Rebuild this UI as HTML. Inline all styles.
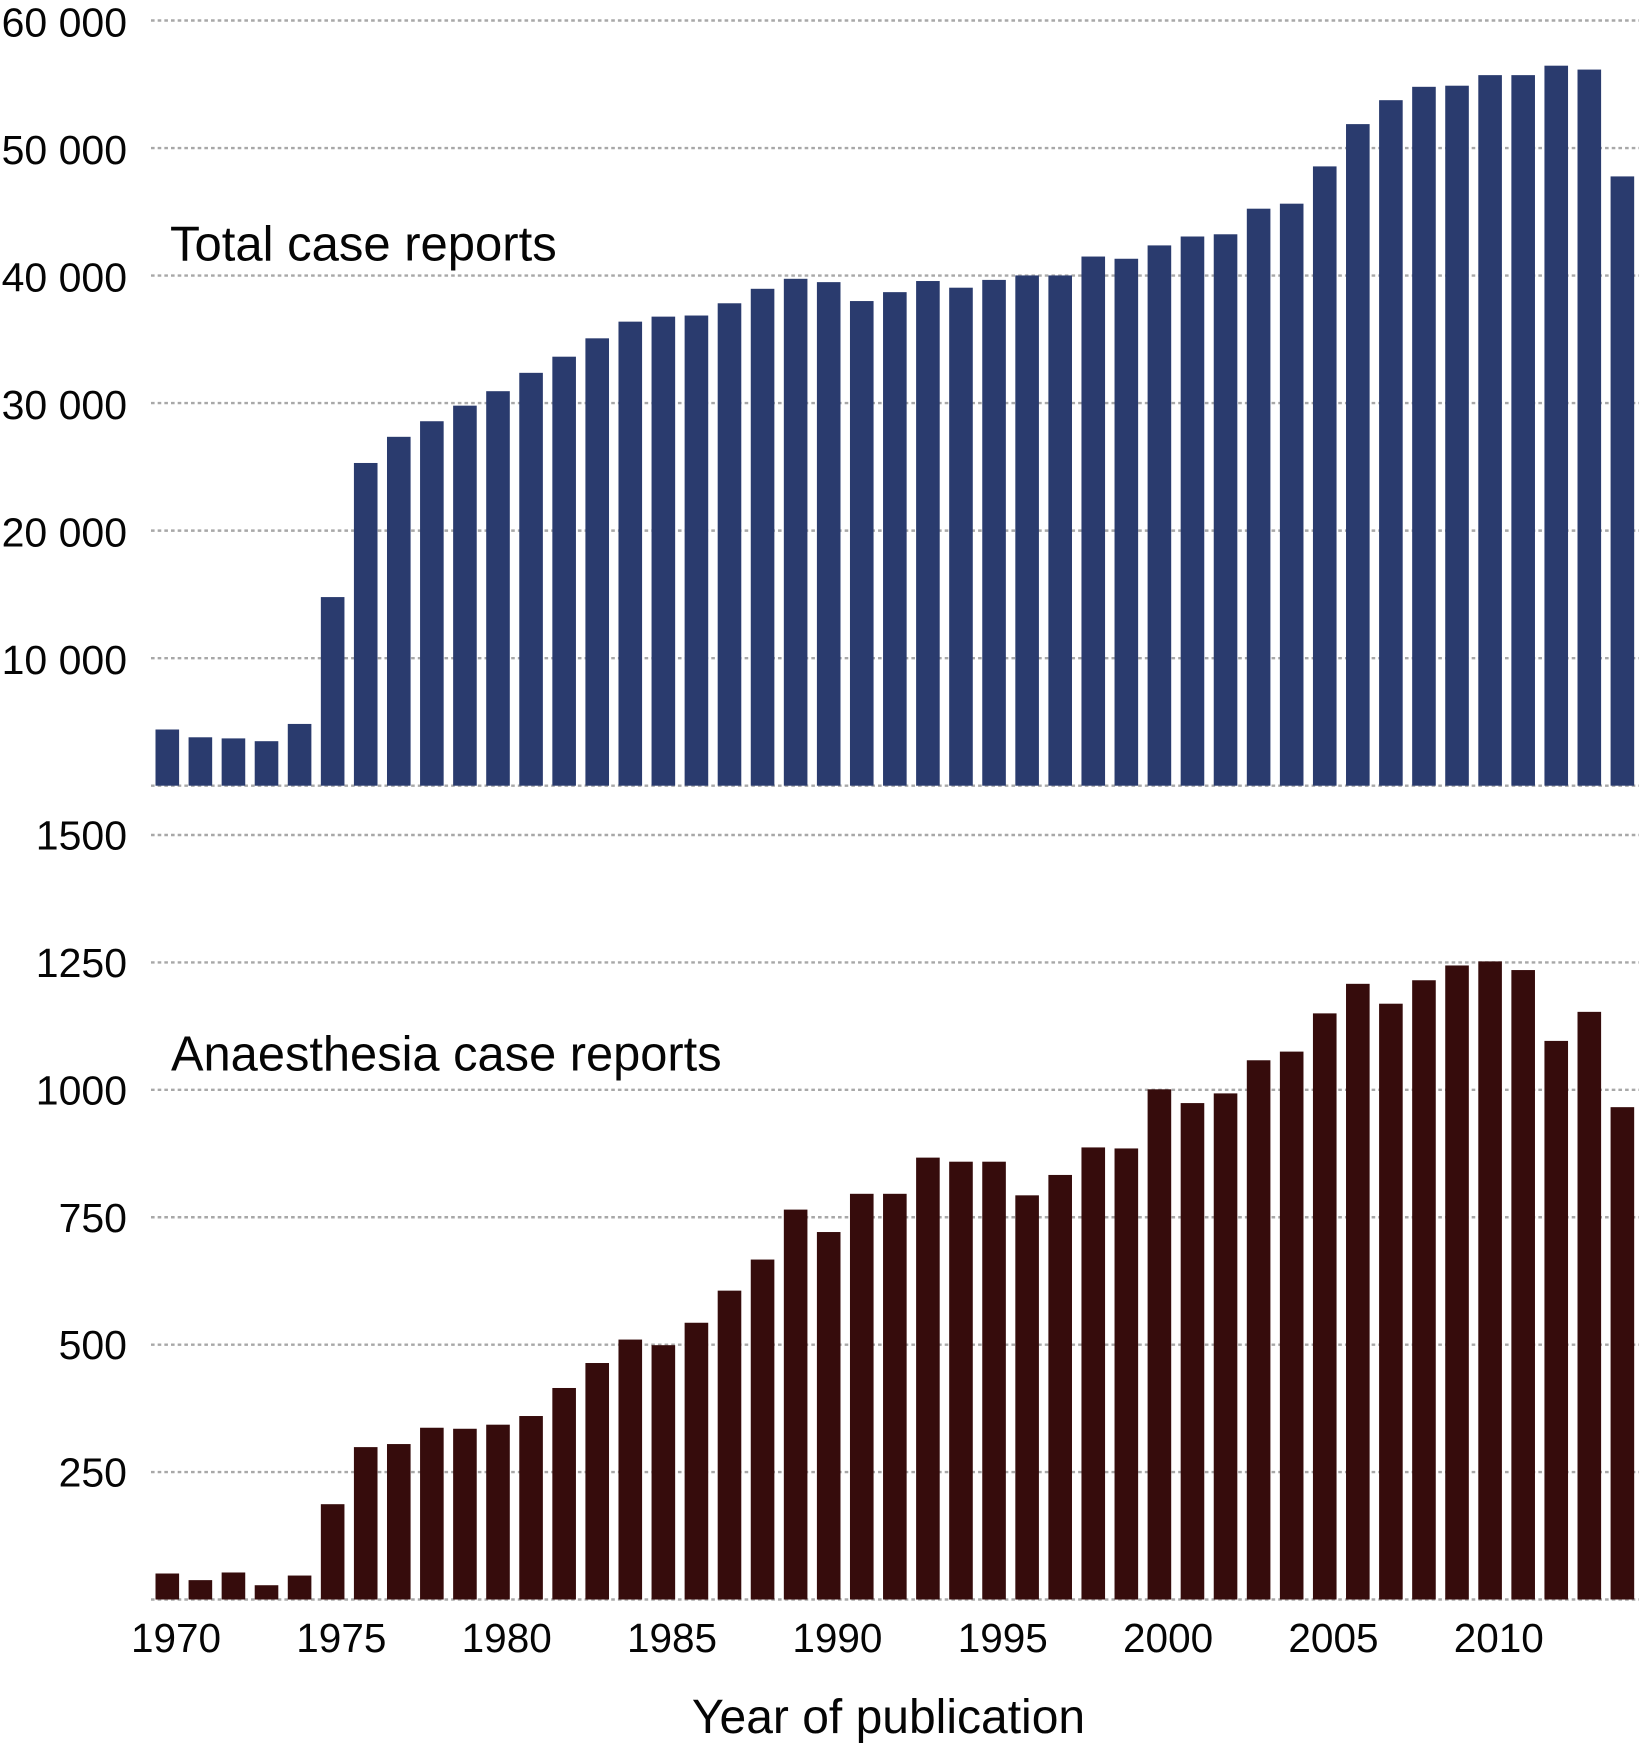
<!DOCTYPE html>
<html lang="en">
<head>
<meta charset="utf-8">
<title>Case reports by year of publication</title>
<style>
html,body{margin:0;padding:0;background:#fff;}
svg{display:block;}
text{font-family:"Liberation Sans",Arial,sans-serif;fill:#050505;}
</style>
</head>
<body>
<svg id="chart" xmlns="http://www.w3.org/2000/svg" width="1639" height="1745" viewBox="0 0 1639 1745">
<rect x="0" y="0" width="1639" height="1745" fill="#fff"/>
<text x="170" y="260.5" font-size="49">Total case reports</text>
<text x="171" y="1070.5" font-size="48.8">Anaesthesia case reports</text>
<text x="888.5" y="1733" font-size="48" text-anchor="middle">Year of publication</text>
</svg>
<script>
const years = [1970,1971,1972,1973,1974,1975,1976,1977,1978,1979,1980,1981,1982,1983,1984,1985,1986,1987,1988,1989,1990,1991,1992,1993,1994,1995,1996,1997,1998,1999,2000,2001,2002,2003,2004,2005,2006,2007,2008,2009,2010,2011,2012,2013,2014];
const totalReports = [4407,3796,3709,3490,4843,14790,25305,27356,28578,29800,30934,32373,33639,35079,36387,36780,36867,37827,38962,39747,39485,38002,38700,39572,39049,39660,40010,40010,41492,41318,42365,43063,43237,45244,45637,48560,51876,53752,54800,54887,55716,55716,56457,56152,47775];
const anaesthesiaReports = [51,38,53,28,47,187,299,305,337,335,343,360,415,464,510,499,543,606,667,765,721,796,796,867,859,859,793,833,887,885,1001,974,993,1058,1075,1150,1208,1169,1215,1244,1252,1235,1096,1153,966];
const totalTicks = [10000,20000,30000,40000,50000,60000];
const totalTickLabels = ["10 000","20 000","30 000","40 000","50 000","60 000"];
const anaesthesiaTicks = [250,500,750,1000,1250,1500];
const anaesthesiaTickLabels = ["250","500","750","1000","1250","1500"];
const yearLabels = [1970,1975,1980,1985,1990,1995,2000,2005,2010];

const NS = "http://www.w3.org/2000/svg";
const svg = document.getElementById("chart");
const marksStart = svg.children[1];

function xBar(year){ return 155.5 + (year - years[0]) * 33.07; }
const BAR_W = 23.6;
function yTotal(v){ return 785.7 - v * (765.2 / 60000); }
function yAnaesthesia(v){ return 1599.5 - v * (764.5 / 1500); }

function drawGrid(yFn, ticks, labels, panel, labelDy){
  const baseline = document.createElementNS(NS, "line");
  
  
  baseline.setAttribute("x1", 151);
  baseline.setAttribute("x2", 1639);
  baseline.setAttribute("y1", yFn(0));
  baseline.setAttribute("y2", yFn(0));
  baseline.setAttribute("stroke", "#a8a8a8");
  baseline.setAttribute("stroke-width", 2.4);
  baseline.setAttribute("stroke-dasharray", "3.6 3.07");
  svg.insertBefore(baseline, marksStart);
  ticks.forEach(function(t, i){
    const line = document.createElementNS(NS, "line");
    
    
    line.setAttribute("x1", 151);
    line.setAttribute("x2", 1639);
    line.setAttribute("y1", yFn(t));
    line.setAttribute("y2", yFn(t));
    line.setAttribute("stroke", "#a8a8a8");
    line.setAttribute("stroke-width", 2.4);
    line.setAttribute("stroke-dasharray", "3.6 3.07");
    svg.insertBefore(line, marksStart);
    const label = document.createElementNS(NS, "text");
    
    
    label.setAttribute("x", 127);
    label.setAttribute("y", yFn(t) + labelDy);
    label.setAttribute("font-size", 41);
    label.setAttribute("text-anchor", "end");
    label.textContent = labels[i];
    svg.appendChild(label);
  });
}

function drawBars(values, yFn, color, panel){
  values.forEach(function(v, i){
    const r = document.createElementNS(NS, "rect");
    
    
    r.setAttribute("x", xBar(years[i]));
    r.setAttribute("y", yFn(v));
    r.setAttribute("width", BAR_W);
    r.setAttribute("height", yFn(0) - yFn(v));
    r.setAttribute("fill", color);
    svg.insertBefore(r, marksStart);
  });
}

drawGrid(yTotal, totalTicks, totalTickLabels, "total", 16);
drawGrid(yAnaesthesia, anaesthesiaTicks, anaesthesiaTickLabels, "anaesthesia", 14.5);
drawBars(totalReports, yTotal, "#2a3b6e", "total");
drawBars(anaesthesiaReports, yAnaesthesia, "#360c0c", "anaesthesia");

yearLabels.forEach(function(y){
  const t = document.createElementNS(NS, "text");
  
  
  t.setAttribute("x", xBar(y) + BAR_W / 2 + 8.7);
  t.setAttribute("y", 1652);
  t.setAttribute("font-size", 40.5);
  t.setAttribute("text-anchor", "middle");
  t.textContent = y;
  svg.appendChild(t);
});
</script>
</body>
</html>
